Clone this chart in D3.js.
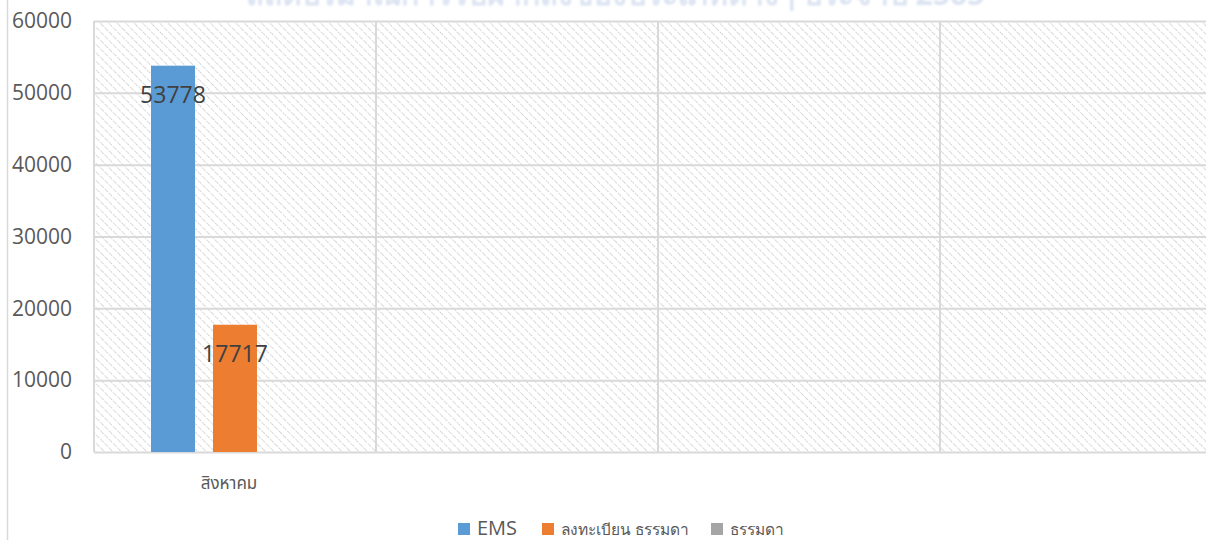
<!DOCTYPE html>
<html>
<head>
<meta charset="utf-8">
<script src="https://cdn.jsdelivr.net/npm/d3@7"></script>
<style>
  body { margin: 0; background: #fff; }
  svg { display: block; font-family: "Open Sans", "Noto Sans", sans-serif; }
</style>
</head>
<body>
<div id="chart"></div>
<script>
// categories (only the first month has a label)
const categories = ["สิงหาคม", "", " ", "  "];
const seriesNames = ["EMS", "ลงทะเบียน ธรรมดา", "ธรรมดา"];
const seriesColors = ["#5B9BD5", "#ED7D31", "#A5A5A5"];
// values per series, one per category
const emsValues = [53778, 0, 0, 0];
const registeredValues = [17717, 0, 0, 0];
const normalValues = [0, 0, 0, 0];
const yTicks = [0, 10000, 20000, 30000, 40000, 50000, 60000];
const chartTitle = "สถิติปริมาณการรับฝากสิ่งของประเภทต่างๆ ประจำปี 2565";

const width = 1206, height = 540;
const margin = { top: 21, right: -16, bottom: 88, left: 94 };

const svg = d3.select("#chart").append("svg")
  .attr("width", width)
  .attr("height", height);

// diagonal hatch for plot background
const defs = svg.append("defs");
const pat = defs.append("pattern")
  .attr("id", "hatch")
  .attr("patternUnits", "userSpaceOnUse")
  .attr("width", 6).attr("height", 6)
  .attr("patternTransform", "rotate(-45)");
pat.append("line")
  .attr("x1", 0).attr("y1", 0).attr("x2", 0).attr("y2", 6)
  .attr("stroke", "#c8c8c8")
  .attr("stroke-width", 1.6)
  .attr("stroke-dasharray", "2,1.5");

const blur = defs.append("filter").attr("id", "soft");
blur.append("feGaussianBlur").attr("stdDeviation", 0.8);

// chart outer border (left edge visible)
svg.append("line")
  .attr("x1", 7.5).attr("x2", 7.5)
  .attr("y1", 0).attr("y2", height)
  .attr("stroke", "#d9d9d9").attr("stroke-width", 1.5);

// title, cut off at the top like in the source
svg.append("text")
  .attr("x", 615).attr("y", 5)
  .attr("text-anchor", "middle")
  .attr("font-size", 30)
  .attr("font-weight", "bold")
  .attr("fill", "#dce4f2")
  .attr("filter", "url(#soft)")
  .text(chartTitle);

const x0 = d3.scaleBand()
  .domain(categories)
  .range([margin.left, width - margin.right])
  .paddingInner(0).paddingOuter(0);

const x1 = d3.scaleBand()
  .domain(seriesNames)
  .range([0, x0.bandwidth()])
  .paddingInner(18 / 62)
  .paddingOuter(57 / 62);

const y = d3.scaleLinear()
  .domain([0, 60000])
  .range([height - margin.bottom, margin.top]);

const plotW = width - margin.right - margin.left;

svg.append("rect")
  .attr("x", margin.left).attr("y", margin.top)
  .attr("width", plotW)
  .attr("height", y(0) - y(60000))
  .attr("fill", "url(#hatch)");

// horizontal gridlines
svg.append("g")
  .attr("transform", `translate(${margin.left},0)`)
  .call(d3.axisLeft(y).tickValues(yTicks).tickSize(-plotW).tickFormat(""))
  .call(g => g.select(".domain").remove())
  .call(g => g.selectAll("line").attr("stroke", "#d9d9d9").attr("stroke-width", 2));

// vertical category separators
svg.append("g")
  .selectAll("line")
  .data(categories)
  .join("line")
  .attr("x1", d => x0(d)).attr("x2", d => x0(d))
  .attr("y1", y(60000)).attr("y2", y(0))
  .attr("stroke", "#d9d9d9").attr("stroke-width", 2);

// y axis labels
svg.append("g")
  .attr("transform", `translate(${margin.left},0)`)
  .call(d3.axisLeft(y).tickValues(yTicks).tickSize(0).tickPadding(22).tickFormat(d3.format("d")))
  .call(g => g.select(".domain").remove())
  .call(g => g.selectAll("text")
    .attr("font-size", 21)
    .attr("fill", "#595959")
    .attr("font-family", "Open Sans, Noto Sans, sans-serif"));

// x axis labels
svg.append("g")
  .attr("transform", `translate(0,${y(0)})`)
  .call(d3.axisBottom(x0).tickSize(0).tickPadding(25))
  .call(g => g.select(".domain").remove())
  .call(g => g.selectAll("text")
    .attr("font-size", 17)
    .attr("fill", "#595959")
    .attr("dx", -6)
    .attr("font-family", "Noto Sans Thai, Noto Sans, sans-serif"));

const series = [emsValues, registeredValues, normalValues];
const rows = [];
categories.forEach((c, i) => {
  seriesNames.forEach((s, j) => {
    rows.push({ cat: c, name: s, value: series[j][i], color: seriesColors[j] });
  });
});

svg.append("g")
  .selectAll("rect")
  .data(rows)
  .join("rect")
  .attr("x", d => x0(d.cat) + x1(d.name))
  .attr("y", d => y(d.value))
  .attr("width", x1.bandwidth())
  .attr("height", d => y(0) - y(d.value))
  .attr("fill", d => d.color);

// data labels for non-zero bars
svg.append("g")
  .selectAll("text")
  .data(rows.filter(d => d.value > 0))
  .join("text")
  .attr("x", d => x0(d.cat) + x1(d.name) + x1.bandwidth() / 2)
  .attr("y", d => y(d.value) + 37)
  .attr("text-anchor", "middle")
  .attr("font-size", 23)
  .attr("fill", "#404040")
  .text(d => d.value);

// legend
const legendItems = [
  { name: seriesNames[0], color: seriesColors[0], x: 458, size: 20 },
  { name: seriesNames[1], color: seriesColors[1], x: 542, size: 15.5 },
  { name: seriesNames[2], color: seriesColors[2], x: 711, size: 15.5 }
];
const legend = svg.append("g");
legendItems.forEach(it => {
  legend.append("rect")
    .attr("x", it.x).attr("y", 523)
    .attr("width", 12).attr("height", 12)
    .attr("fill", it.color);
  legend.append("text")
    .attr("x", it.x + 19).attr("y", 535)
    .attr("font-size", it.size)
    .attr("fill", "#595959")
    .text(it.name);
});
</script>
</body>
</html>
